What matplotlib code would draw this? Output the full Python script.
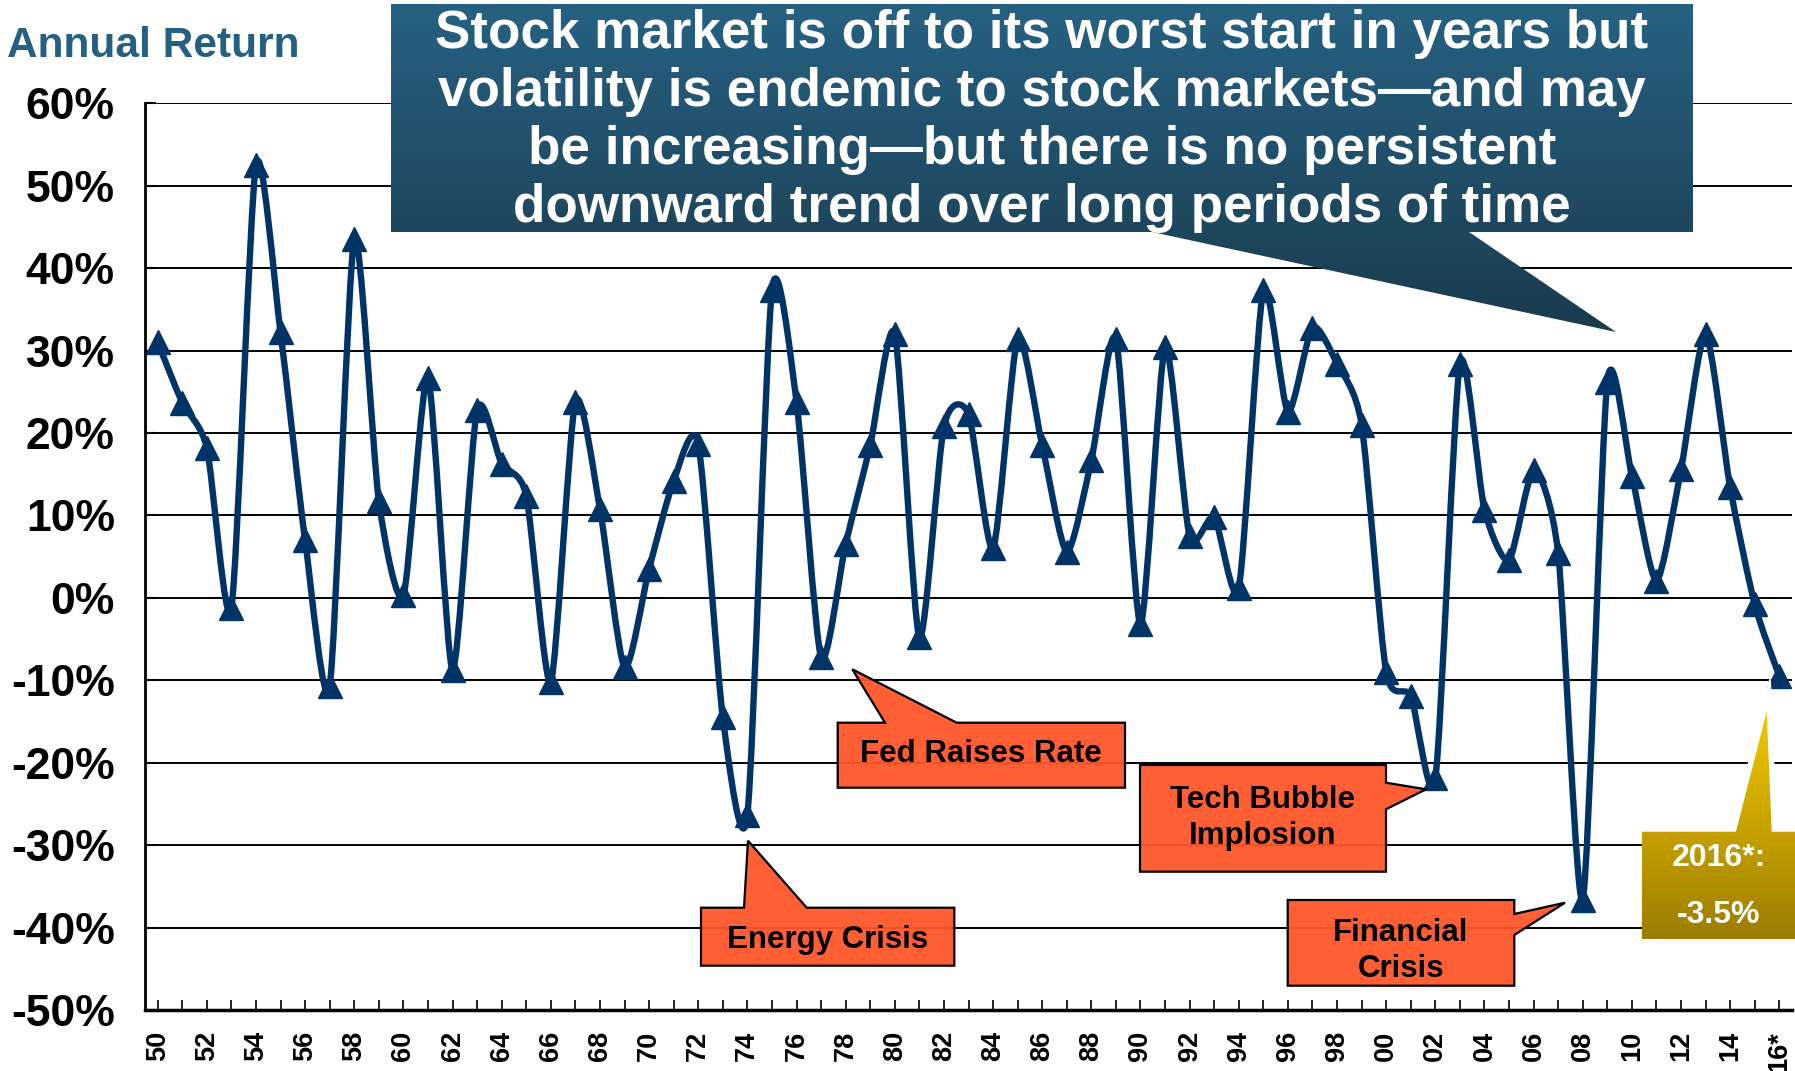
import numpy as np
import matplotlib
matplotlib.use("Agg")
import matplotlib.pyplot as plt
from matplotlib.path import Path
from matplotlib.patches import PathPatch, Polygon
from matplotlib.colors import LinearSegmentedColormap

plt.rcParams['font.family'] = ['Liberation Sans', 'DejaVu Sans']
plt.rcParams['font.weight'] = 'bold'

# ---------------- data ----------------
years = list(range(1950, 2017))
returns = [31.0, 23.7, 18.2, -1.2, 52.5, 32.2, 7.0, -10.7, 43.5, 11.8,
           0.3, 26.7, -8.7, 22.8, 16.3, 12.4, -10.2, 23.8, 10.8, -8.4,
           3.5, 14.2, 18.7, -14.5, -26.3, 37.3, 23.8, -7.2, 6.5, 18.5,
           32.0, -4.8, 20.8, 22.3, 6.0, 31.4, 18.5, 5.6, 16.7, 31.4,
           -3.2, 30.4, 7.5, 9.8, 1.2, 37.3, 22.6, 32.8, 28.4, 21.0,
           -9.0, -11.9, -21.9, 28.4, 10.7, 4.6, 15.5, 5.4, -36.6, 26.2,
           14.8, 2.1, 15.6, 32.0, 13.4, -0.8, -9.5]
x_label_years = list(range(1950, 2017, 2))
x_tick_labels = ["50", "52", "54", "56", "58", "60", "62", "64", "66", "68",
                 "70", "72", "74", "76", "78", "80", "82", "84", "86", "88",
                 "90", "92", "94", "96", "98", "00", "02", "04", "06", "08",
                 "10", "12", "14", "16*"]
y_ticks = [-50, -40, -30, -20, -10, 0, 10, 20, 30, 40, 50, 60]
y_tick_labels = ["-50%", "-40%", "-30%", "-20%", "-10%", "0%", "10%", "20%",
                 "30%", "40%", "50%", "60%"]

title_text = "Annual Return"
callout_text = ("Stock market is off to its worst start in years but\n"
                "volatility is endemic to stock markets\u2014and may\n"
                "be increasing\u2014but there is no persistent\n"
                "downward trend over long periods of time")

W, H = 1795, 1071
LINE = '#003366'
ORANGE = '#FF5528'
TENSION = 0.12

fig = plt.figure(figsize=(W / 100, H / 100), dpi=100)
fig.patch.set_facecolor('white')

ax_l, ax_r, ax_t, ax_b = 145.4, 1791.6, 103.3, 1010.0
ax = fig.add_axes([ax_l / W, 1 - ax_b / H, (ax_r - ax_l) / W, (ax_b - ax_t) / H])

# smoothed line (Bezier through data points)
x = np.array(years, float)
y = np.array(returns, float)
n = len(x)
verts = [(x[0], y[0])]
codes = [Path.MOVETO]
for i in range(n - 1):
    p0 = i - 1 if i > 0 else i
    p3 = i + 2 if i + 2 < n else i + 1
    c1 = (x[i] + (x[i + 1] - x[p0]) * TENSION, y[i] + (y[i + 1] - y[p0]) * TENSION)
    c2 = (x[i + 1] - (x[p3] - x[i]) * TENSION, y[i + 1] - (y[p3] - y[i]) * TENSION)
    verts += [c1, c2, (x[i + 1], y[i + 1])]
    codes += [Path.CURVE4] * 3
ax.add_patch(PathPatch(Path(verts, codes), fill=False, lw=4.6, edgecolor=LINE,
                       capstyle='round', joinstyle='round', zorder=3))
ax.plot(years, returns, ls='none', marker='^', ms=17, color=LINE, zorder=4)

ax.set_xlim(1949.5, 2016.5)
ax.set_ylim(-50, 60)
ax.set_yticks(y_ticks)
ax.set_yticklabels(y_tick_labels, fontsize=32, fontweight='bold')
ax.set_xticks(x_label_years)
ax.set_xticklabels(x_tick_labels, fontsize=19.5, fontweight='bold', rotation=90)
ax.set_xticks([yr for yr in years if yr not in x_label_years], minor=True)
ax.tick_params(axis='y', direction='in', length=8, width=1.5, pad=22)
ax.tick_params(axis='x', which='both', direction='in', length=7, width=1.2, pad=15)
ax.grid(axis='y', color='black', lw=1.4, zorder=1)
ax.set_axisbelow(True)
for s in ['top', 'right']:
    ax.spines[s].set_visible(False)
ax.spines['left'].set_linewidth(2)
ax.spines['bottom'].set_linewidth(2.5)

# ---------------- overlay in pixel coordinates ----------------
ov = fig.add_axes([0, 0, 1, 1], zorder=5)
ov.set_xlim(0, W)
ov.set_ylim(H, 0)
ov.set_axis_off()


def grad_fill(pts, c_top, c_bot, z):
    patch = Polygon(pts, closed=True, facecolor='none', edgecolor='none')
    ov.add_patch(patch)
    xs = [p[0] for p in pts]
    ys = [p[1] for p in pts]
    cmap = LinearSegmentedColormap.from_list('g', [c_top, c_bot])
    grad = np.linspace(0, 1, 256).reshape(-1, 1)
    im = ov.imshow(grad, cmap=cmap, extent=(min(xs), max(xs), max(ys), min(ys)),
                   aspect='auto', zorder=z, interpolation='bilinear')
    im.set_clip_path(patch)


ov.text(7, 57, title_text, fontsize=30.5, fontweight='bold', color='#255F82',
        ha='left', va='baseline')

# big callout
big = [(391, 4), (1693, 4), (1693, 232), (1469, 232), (1616, 332),
       (1152, 232), (391, 232)]
grad_fill(big, '#276182', '#1A3B4D', 6)
ov.text(1042, 121, callout_text, fontsize=38.2, fontweight='bold', color='white',
        ha='center', va='center', multialignment='center', linespacing=1.21,
        zorder=7)

# orange annotation boxes
boxes = {
    'Fed Raises Rate': [(837.7, 722.7), (885, 722.7), (852.3, 669.3), (956.7, 722.7),
                        (1125, 722.7), (1125, 787.7), (837.7, 787.7)],
    'Energy Crisis': [(701, 907.7), (744, 907.7), (748, 840.7), (806.7, 907.7),
                      (954.3, 907.7), (954.3, 965.7), (701, 965.7)],
    'Tech Bubble\nImplosion': [(1140, 765), (1386, 765), (1386, 782.7), (1426, 789.3),
                               (1386, 809.3), (1386, 871.7), (1140, 871.7)],
    'Financial\nCrisis': [(1287.7, 900), (1514.3, 900), (1514.3, 914), (1565, 902.7),
                          (1514.3, 935), (1514.3, 985.7), (1287.7, 985.7)],
}
text_pos = {
    'Fed Raises Rate': (981, 754),
    'Energy Crisis': (828, 940),
    'Tech Bubble\nImplosion': (1263, 818),
    'Financial\nCrisis': (1401, 951),
}
for label, pts in boxes.items():
    ov.add_patch(Polygon(pts, closed=True, facecolor=ORANGE, alpha=0.94,
                         edgecolor='none', zorder=6))
    ov.add_patch(Polygon(pts, closed=True, facecolor='none', edgecolor='black',
                         lw=1.6, zorder=6.5))
    tx, ty = text_pos[label]
    ov.text(tx, ty, label, fontsize=22.5, fontweight='bold', color='black',
            ha='center', va='center', multialignment='center', linespacing=1.3,
            zorder=7)

# gold 2016 box
gold_tail = [(1736, 831.7), (1766.7, 711.7), (1771.7, 831.7)]
ov.add_patch(Polygon(gold_tail, closed=True, facecolor='white', edgecolor='white',
                     lw=8, zorder=5.5))
gold = [(1641.7, 831.7), (1736, 831.7), (1766.7, 711.7), (1771.7, 831.7),
        (1795, 831.7), (1795, 939.3), (1641.7, 939.3)]
grad_fill(gold, '#F2C800', '#9C7D00', 6)
ov.text(1719, 858, "2016*:", fontsize=23, fontweight='bold', color='white',
        ha='center', va='center', zorder=7)
ov.text(1719, 915, "-3.5%", fontsize=23, fontweight='bold', color='white',
        ha='center', va='center', zorder=7)

fig.savefig('out.png', dpi=100, facecolor='white')
